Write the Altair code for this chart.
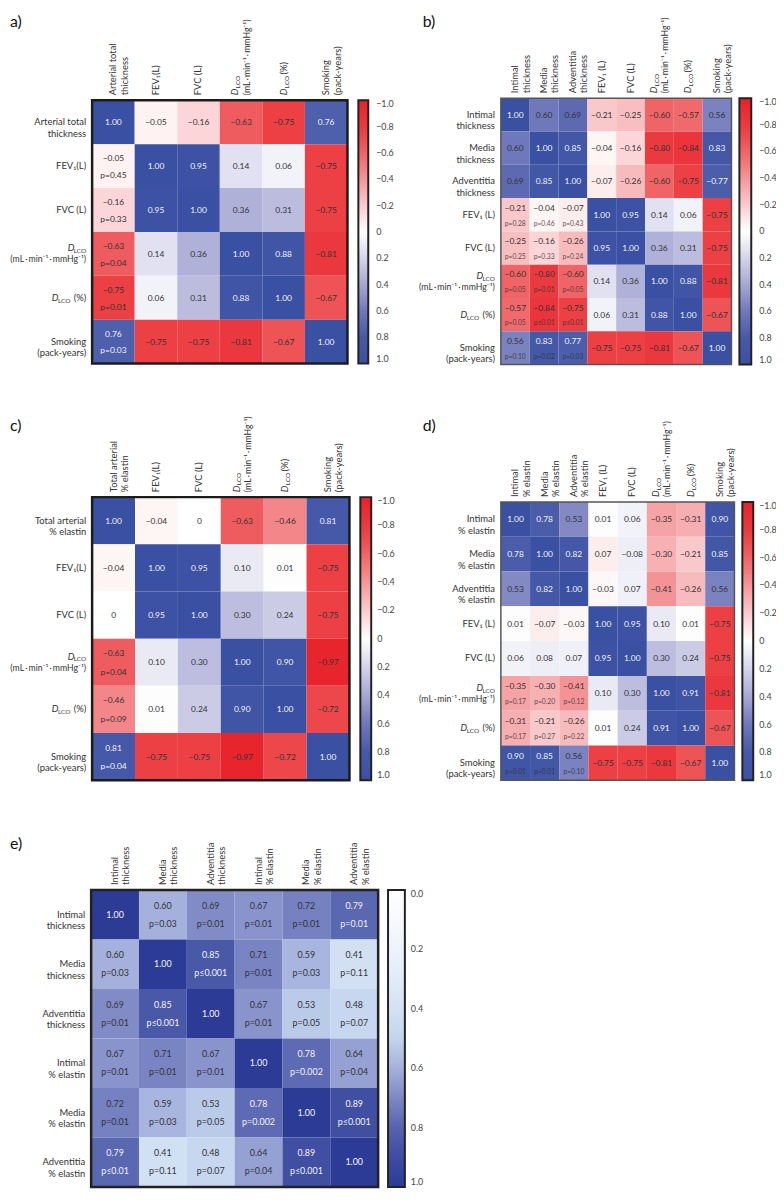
import altair as alt
import pandas as pd

FONT = "Lato"
DARK = "#333333"
LIGHT = "#f4f4f4"

DLCO_ABS = "DLCO (mL·min⁻¹·mmHg⁻¹)"
DLCO_PCT = "DLCO (%)"
UNITS = "(mL\u2009·\u2009min⁻¹\u2009·\u2009mmHg⁻¹)"

# ---------------- data ----------------
A_LABELS = ["Arterial total\nthickness", "FEV₁(L)", "FVC (L)", DLCO_ABS, DLCO_PCT, "Smoking\n(pack-years)"]
A_VALUES = [
    [1.00, -0.05, -0.16, -0.63, -0.75, 0.76],
    [-0.05, 1.00, 0.95, 0.14, 0.06, -0.75],
    [-0.16, 0.95, 1.00, 0.36, 0.31, -0.75],
    [-0.63, 0.14, 0.36, 1.00, 0.88, -0.81],
    [-0.75, 0.06, 0.31, 0.88, 1.00, -0.67],
    [0.76, -0.75, -0.75, -0.81, -0.67, 1.00],
]
A_P = [[], ["p=0.45"], ["p=0.33"], ["p=0.04"], ["p=0.01"], ["p=0.03"]]

B_LABELS = ["Intimal\nthickness", "Media\nthickness", "Adventitia\nthickness", "FEV₁ (L)", "FVC (L)",
            DLCO_ABS, DLCO_PCT, "Smoking\n(pack-years)"]
B_VALUES = [
    [1.00, 0.60, 0.69, -0.21, -0.25, -0.60, -0.57, 0.56],
    [0.60, 1.00, 0.85, -0.04, -0.16, -0.80, -0.84, 0.83],
    [0.69, 0.85, 1.00, -0.07, -0.26, -0.60, -0.75, -0.77],
    [-0.21, -0.04, -0.07, 1.00, 0.95, 0.14, 0.06, -0.75],
    [-0.25, -0.16, -0.26, 0.95, 1.00, 0.36, 0.31, -0.75],
    [-0.60, -0.80, -0.60, 0.14, 0.36, 1.00, 0.88, -0.81],
    [-0.57, -0.84, -0.75, 0.06, 0.31, 0.88, 1.00, -0.67],
    [0.56, 0.83, 0.77, -0.75, -0.75, -0.81, -0.67, 1.00],
]
B_P = [[], [], [],
       ["p=0.28", "p=0.46", "p=0.43"],
       ["p=0.25", "p=0.33", "p=0.24"],
       ["p=0.05", "p=0.01", "p=0.05"],
       ["p=0.05", "p≤0.01", "p≤0.01"],
       ["p=0.10", "p=0.02", "p=0.03"]]

C_LABELS = ["Total arterial\n% elastin", "FEV₁(L)", "FVC (L)", DLCO_ABS, DLCO_PCT, "Smoking\n(pack-years)"]
C_VALUES = [
    [1.00, -0.04, 0, -0.63, -0.46, 0.81],
    [-0.04, 1.00, 0.95, 0.10, 0.01, -0.75],
    [0, 0.95, 1.00, 0.30, 0.24, -0.75],
    [-0.63, 0.10, 0.30, 1.00, 0.90, -0.97],
    [-0.46, 0.01, 0.24, 0.90, 1.00, -0.72],
    [0.81, -0.75, -0.75, -0.97, -0.72, 1.00],
]
C_P = [[], [], [], ["p=0.04"], ["p=0.09"], ["p=0.04"]]

D_LABELS = ["Intimal\n% elastin", "Media\n% elastin", "Adventitia\n% elastin", "FEV₁ (L)", "FVC (L)",
            DLCO_ABS, DLCO_PCT, "Smoking\n(pack-years)"]
D_VALUES = [
    [1.00, 0.78, 0.53, 0.01, 0.06, -0.35, -0.31, 0.90],
    [0.78, 1.00, 0.82, 0.07, -0.08, -0.30, -0.21, 0.85],
    [0.53, 0.82, 1.00, -0.03, 0.07, -0.41, -0.26, 0.56],
    [0.01, -0.07, -0.03, 1.00, 0.95, 0.10, 0.01, -0.75],
    [0.06, 0.08, 0.07, 0.95, 1.00, 0.30, 0.24, -0.75],
    [-0.35, -0.30, -0.41, 0.10, 0.30, 1.00, 0.91, -0.81],
    [-0.31, -0.21, -0.26, 0.01, 0.24, 0.91, 1.00, -0.67],
    [0.90, 0.85, 0.56, -0.75, -0.75, -0.81, -0.67, 1.00],
]
D_P = [[], [], [], [], [],
       ["p=0.17", "p=0.20", "p=0.12"],
       ["p=0.17", "p=0.27", "p=0.22"],
       ["p=0.01", "p=0.01", "p=0.10"]]

E_LABELS = ["Intimal\nthickness", "Media\nthickness", "Adventitia\nthickness",
            "Intimal\n% elastin", "Media\n% elastin", "Adventitia\n% elastin"]
E_VALUES = [
    [1.00, 0.60, 0.69, 0.67, 0.72, 0.79],
    [0.60, 1.00, 0.85, 0.71, 0.59, 0.41],
    [0.69, 0.85, 1.00, 0.67, 0.53, 0.48],
    [0.67, 0.71, 0.67, 1.00, 0.78, 0.64],
    [0.72, 0.59, 0.53, 0.78, 1.00, 0.89],
    [0.79, 0.41, 0.48, 0.64, 0.89, 1.00],
]
E_P = [
    ["", "p=0.03", "p=0.01", "p=0.01", "p=0.01", "p=0.01"],
    ["p=0.03", "", "p≤0.001", "p=0.01", "p=0.03", "p=0.11"],
    ["p=0.01", "p≤0.001", "", "p=0.01", "p=0.05", "p=0.07"],
    ["p=0.01", "p=0.01", "p=0.01", "", "p=0.002", "p=0.04"],
    ["p=0.01", "p=0.03", "p=0.05", "p=0.002", "", "p≤0.001"],
    ["p≤0.01", "p=0.11", "p=0.07", "p=0.04", "p≤0.001", ""],
]

# colour-bar tick values
DIV_TICKS = [-1, -0.8, -0.6, -0.4, -0.2, 0, 0.2, 0.4, 0.6, 0.8, 1]
SEQ_TICKS = [0, 0.2, 0.4, 0.6, 0.8, 1]

# ---------------- colour maps (value -> colour) ----------------
DIV_STOPS = [(-1, "#e8202a"), (-0.75, "#ec4044"), (-0.5, "#f27b7d"), (-0.25, "#f8bec0"),
             (0, "#ffffff"), (0.2, "#d4d4eb"), (0.4, "#a6a8d3"), (0.6, "#6f78ba"),
             (0.8, "#4659a8"), (1, "#3a50a2")]
SEQ_STOPS = [(0, "#ffffff"), (0.2, "#eef3fb"), (0.4, "#d3e2f4"), (0.5, "#c3d4ee"),
             (0.6, "#a5b1dc"), (0.7, "#7d88c5"), (0.8, "#5663af"), (0.9, "#3e4da1"),
             (1.0, "#2c3b96")]

# ---------------- layout (page pixel coordinates) ----------------
PANELS = [
    dict(letter="a)", lpos=(10, 16), labels=A_LABELS, values=A_VALUES, p=A_P, kind="div",
         x0=93, x1=351, y0=95, y1=361, lx=362, lw=10, lo=8,
         fs=8.5, pfs=8.5, dv=-8, dp=9, psmall=False, frame="#1c1c1c", fw=2.5),
    dict(letter="b)", lpos=(427, 16), labels=B_LABELS, values=B_VALUES, p=B_P, kind="div",
         x0=506, x1=739, y0=93, y1=362, lx=747, lw=12, lo=8,
         fs=8.5, pfs=6.8, dv=-7, dp=9, psmall=True, frame="#555555", fw=1.5),
    dict(letter="c)", lpos=(10, 424), labels=C_LABELS, values=C_VALUES, p=C_P, kind="div",
         x0=93, x1=353, y0=496, y1=782, lx=364, lw=11, lo=6,
         fs=8.5, pfs=8.5, dv=-9, dp=9.5, psmall=False, frame="#1c1c1c", fw=2.5),
    dict(letter="d)", lpos=(427, 424), labels=D_LABELS, values=D_VALUES, p=D_P, kind="div",
         x0=506, x1=742, y0=501, y1=782, lx=750, lw=11, lo=6,
         fs=8.5, pfs=6.8, dv=-7, dp=9, psmall=True, frame="#555555", fw=1.5),
    dict(letter="e)", lpos=(10, 847), labels=E_LABELS, values=E_VALUES, p=E_P, kind="seq",
         x0=92, x1=382, y0=893, y1=1193, lx=392, lw=17, lo=6,
         fs=9, pfs=9, dv=-9, dp=9, psmall=False, frame="#222222", fw=2.5),
]

M = 8  # page margin
LFS = 9.5
UFS = 8.8
LLH = 11.5
SUB_FS = 6.5
SUB_DY = 3
W_D = 7
W_LCO = 12
W_PCT = 14
GAP = 2


def fmt(v):
    return "0" if v == 0 else f"{v:.2f}".replace("-", "\u2212")


def full_p(prows, n):
    return [list(r) + [""] * (n - len(r)) for r in prows]


def cell_table(labels, values, prows):
    n = len(labels)
    pv = full_p(prows, n)
    recs = []
    for i in range(n):
        for j in range(n):
            cv = values[max(i, j)][min(i, j)]
            recs.append({"r": labels[i], "c": labels[j], "neg": -cv,
                         "txt": fmt(values[i][j]), "p": pv[i][j], "white": bool(cv >= 0.75)})
    return pd.DataFrame(recs)


def color_scale(kind):
    stops = DIV_STOPS if kind == "div" else SEQ_STOPS
    stops = sorted([(-v, c) for v, c in stops])
    return alt.Scale(domain=[s[0] for s in stops], range=[s[1] for s in stops],
                     interpolate="rgb", zero=False, nice=False)


def legend_for(g):
    if g["kind"] == "div":
        vals = [-v for v in DIV_TICKS]
        expr = "datum.value == 0 ? '0' : format(-datum.value, '.1f')"
    else:
        vals = [-v for v in SEQ_TICKS]
        expr = "format(-datum.value, '.1f')"
    return alt.Legend(orient="none", legendX=g["lx"] - M, legendY=g["y0"] - M,
                      direction="vertical", gradientLength=g["y1"] - g["y0"],
                      gradientThickness=g["lw"], title=None, values=vals, labelExpr=expr,
                      labelFont=FONT, labelFontSize=9, labelColor="#444444",
                      labelOffset=g["lo"], labelBaseline="middle", labelOverlap=False,
                      padding=0, gradientStrokeColor="#222222", gradientStrokeWidth=2)


def label_mark(df, text=None, size=LFS, italic=False, **kw):
    props = dict(font=FONT, fontSize=size, color=DARK, baseline="middle",
                 fontStyle="italic" if italic else "normal", **kw)
    if text is not None:
        props["text"] = text
    return alt.Chart(df).mark_text(**props)


def colorbar_ticks(g):
    if g["kind"] == "div":
        vals, dom = DIV_TICKS[1:-1], [-1, 1]
    else:
        vals, dom = SEQ_TICKS[1:-1], [0, 1]
    right = g["lx"] + g["lw"] - M
    return alt.Chart(pd.DataFrame({"t": vals})).mark_rule(color="#222222", strokeWidth=1.5).encode(
        y=alt.Y("t:Q", scale=alt.Scale(domain=dom, range=[g["y0"] - M, g["y1"] - M],
                                        nice=False, zero=False), axis=None),
        x=alt.value(right - 3.5), x2=alt.value(right))


def panel(g):
    labels = g["labels"]
    df = cell_table(labels, g["values"], g["p"])
    xs = alt.Scale(domain=labels, range=[g["x0"] - M, g["x1"] - M], paddingInner=0, paddingOuter=0)
    ys = alt.Scale(domain=labels, range=[g["y0"] - M, g["y1"] - M], paddingInner=0, paddingOuter=0)

    def X(f="c"):
        return alt.X(f"{f}:N", scale=xs, axis=None)

    def Y(f="r"):
        return alt.Y(f"{f}:N", scale=ys, axis=None)

    tcol = alt.when(alt.datum.white).then(alt.value(LIGHT)).otherwise(alt.value(DARK))
    base = alt.Chart(df)
    layers = []
    layers.append(base.mark_rect().encode(
        x=X(), y=Y(), color=alt.Color("neg:Q", scale=color_scale(g["kind"]), legend=legend_for(g))))
    layers.append(base.transform_filter("datum.p == ''").mark_text(
        font=FONT, fontSize=g["fs"]).encode(x=X(), y=Y(), text="txt:N", color=tcol))
    layers.append(base.transform_filter("datum.p != ''").mark_text(
        font=FONT, fontSize=g["fs"], dy=g["dv"]).encode(x=X(), y=Y(), text="txt:N", color=tcol))
    if g["psmall"]:
        layers.append(base.transform_filter("datum.p != ''").mark_text(
            font=FONT, fontSize=g["pfs"], dy=g["dp"], color=DARK, opacity=0.8).encode(
            x=X(), y=Y(), text="p:N"))
    else:
        layers.append(base.transform_filter("datum.p != ''").mark_text(
            font=FONT, fontSize=g["pfs"], dy=g["dp"]).encode(x=X(), y=Y(), text="p:N", color=tcol))
    # frame
    layers.append(alt.Chart(pd.DataFrame({"k": [0]})).mark_rect(
        filled=False, stroke=g["frame"], strokeWidth=g["fw"]).encode(
        x=alt.value(g["x0"] - M), x2=alt.value(g["x1"] - M),
        y=alt.value(g["y0"] - M), y2=alt.value(g["y1"] - M)))

    # row labels
    xr = g["x0"] - 6 - M
    plain = [l for l in labels if l not in (DLCO_ABS, DLCO_PCT)]
    layers.append(label_mark(pd.DataFrame({"r": plain}), align="right", lineBreak="\n",
                             lineHeight=LLH).encode(x=alt.value(xr), y=Y(), text="r:N"))
    # column labels (rotated)
    yb = g["y0"] - 5 - M
    layers.append(label_mark(pd.DataFrame({"c": plain}), align="left", angle=270, lineBreak="\n",
                             lineHeight=LLH).encode(x=X(), y=alt.value(yb), text="c:N"))

    row_segs, col_segs = [], []
    if DLCO_ABS in labels:
        row_segs += [(DLCO_ABS, UNITS, "u", 0, LLH / 2),
                     (DLCO_ABS, "LCO", "s", 0, -LLH / 2 + SUB_DY),
                     (DLCO_ABS, "D", "i", -W_LCO, -LLH / 2)]
        col_segs += [(DLCO_ABS, "D", "i", 0, -LLH / 2),
                     (DLCO_ABS, "LCO", "s", W_D, -LLH / 2 + SUB_DY),
                     (DLCO_ABS, UNITS, "u", 0, LLH / 2)]
    if DLCO_PCT in labels:
        row_segs += [(DLCO_PCT, "(%)", "n", 0, 0),
                     (DLCO_PCT, "LCO", "s", -(W_PCT + GAP), SUB_DY),
                     (DLCO_PCT, "D", "i", -(W_PCT + GAP + W_LCO), 0)]
        col_segs += [(DLCO_PCT, "D", "i", 0, 0),
                     (DLCO_PCT, "LCO", "s", W_D, SUB_DY),
                     (DLCO_PCT, "(%)", "n", W_D + W_LCO + GAP, 0)]
    sizes = {"s": SUB_FS, "u": UFS, "n": LFS, "i": LFS}
    for key, txt, st, dx, dy in row_segs:
        layers.append(label_mark(pd.DataFrame({"r": [key]}), text=txt, size=sizes[st],
                                 italic=(st == "i"), align="right", dx=dx, dy=dy).encode(
            x=alt.value(xr), y=Y()))
    for key, txt, st, dx, dy in col_segs:
        layers.append(label_mark(pd.DataFrame({"c": [key]}), text=txt, size=sizes[st],
                                 italic=(st == "i"), align="left", angle=270, dx=dx, dy=dy).encode(
            x=X(), y=alt.value(yb)))
    # panel letter
    layers.append(alt.Chart(pd.DataFrame({"t": [g["letter"]]})).mark_text(
        font=FONT, fontSize=16, color="#111111", align="left", baseline="middle").encode(
        x=alt.value(g["lpos"][0] - M), y=alt.value(g["lpos"][1] - M), text="t:N"))
    return alt.layer(*layers)


children = []
for g in PANELS:
    children.append(panel(g))
    children.append(colorbar_ticks(g))

chart = alt.layer(*children).resolve_scale(
    x="independent", y="independent", color="independent"
).properties(
    width=776, height=1194, autosize=alt.AutoSizeParams(type="none"), padding=0
).configure_view(strokeWidth=0)

chart.save("out.html", embed_options={"renderer": "svg", "actions": False})
